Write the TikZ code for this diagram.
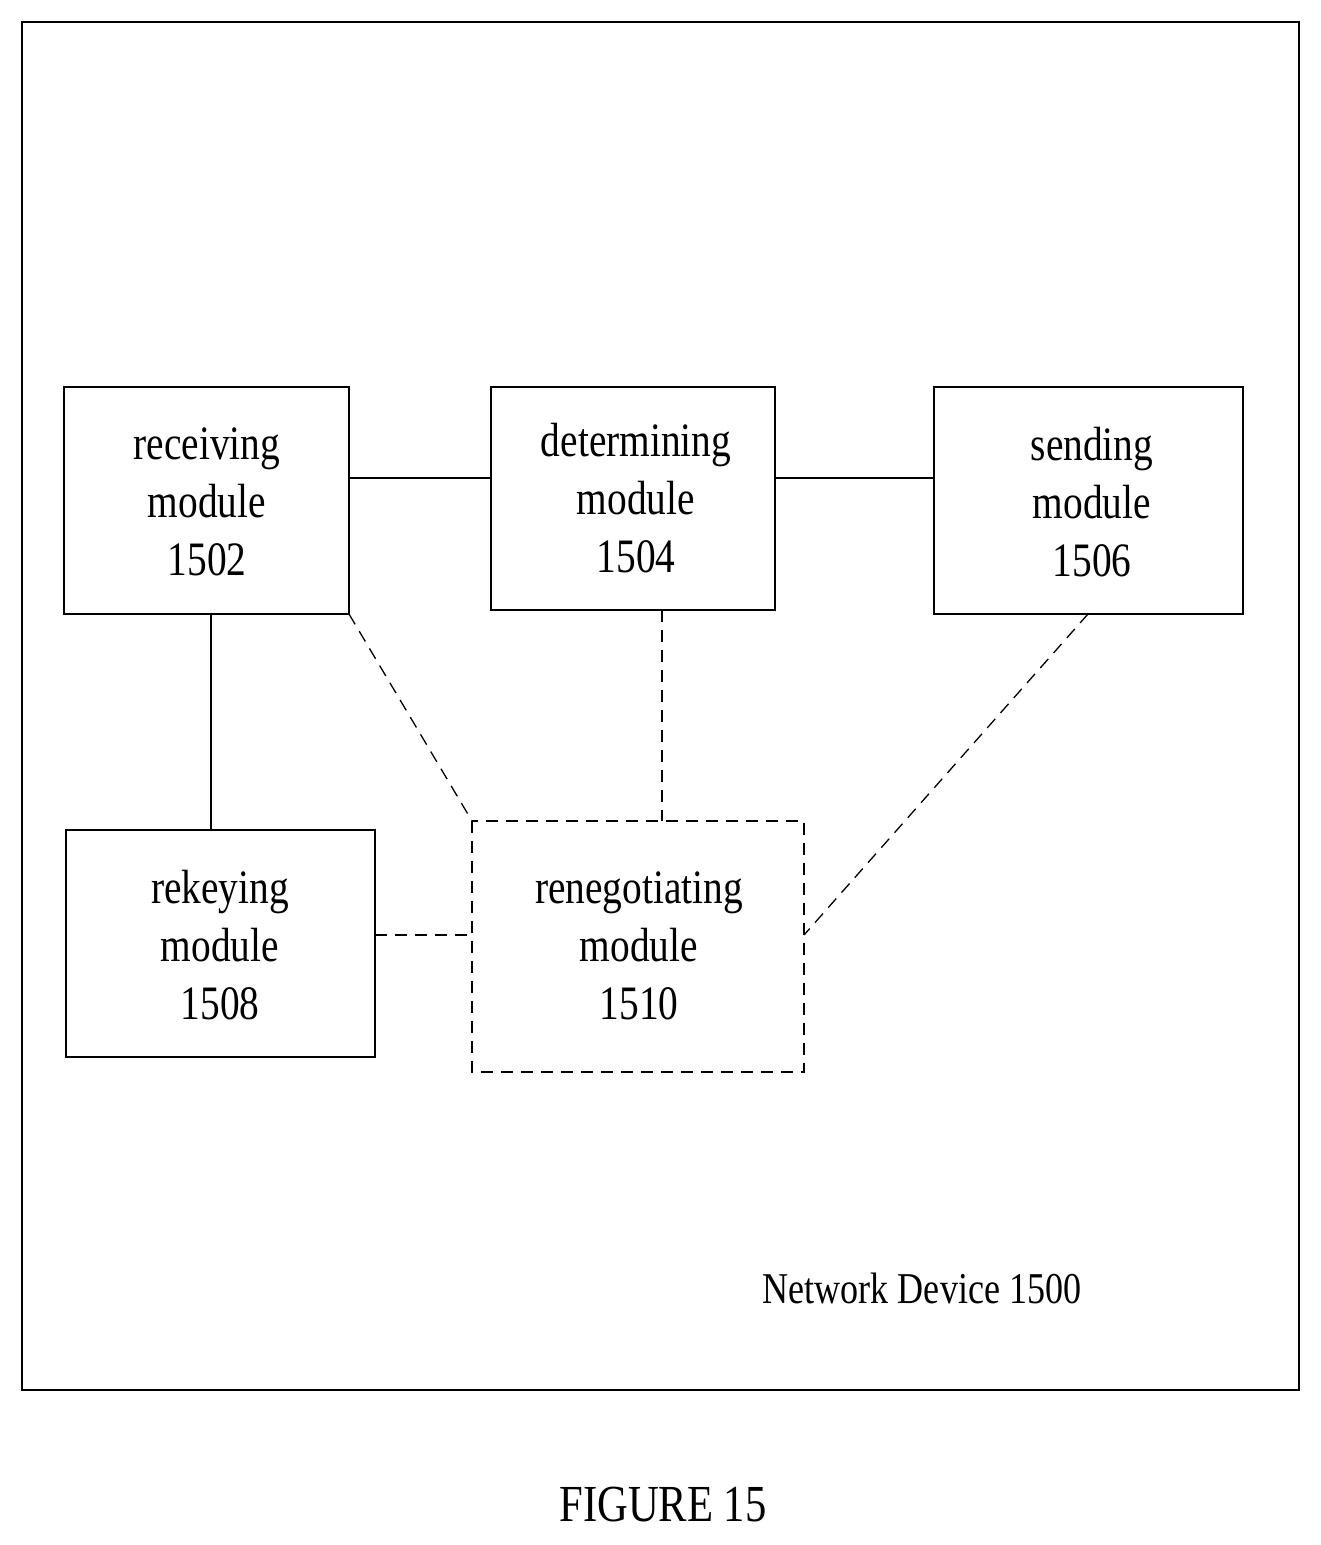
\documentclass[tikz,border=0pt]{standalone}
\usepackage{fontspec}
\setmainfont{Liberation Serif}[FakeStretch=0.82]
\begin{document}
\begin{tikzpicture}[x=1pt,y=-1pt,
  box/.style={draw,line width=1.3pt,inner sep=0pt},
  lbl/.style={align=center,font=\fontsize{48}{58}\selectfont},
  dsh/.style={line width=1.3pt,dash pattern=on 12pt off 8pt},
  sol/.style={line width=1.3pt}]
\useasboundingbox (0,0) rectangle (1321,1545);
\draw[line width=1.5pt] (22,22) rectangle (1299,1390);
\draw[box] (64,387) rectangle (349,614);
\draw[box] (491,387) rectangle (775,610);
\draw[box] (934,387) rectangle (1243,614);
\draw[box] (66,830) rectangle (375,1057);
\draw[box,dsh] (472,821) rectangle (804,1072);
\node[lbl] (rec) at (207,502) {receiving\\module\\1502};
\node[lbl] (det) at (636,498) {determining\\module\\1504};
\node[lbl] (snd) at (1092,502) {sending\\module\\1506};
\node[lbl] (rek) at (220,945) {rekeying\\module\\1508};
\node[lbl] (ren) at (639,946) {renegotiating\\module\\1510};
\coordinate (a1) at (349,478); \coordinate (a2) at (491,478);
\coordinate (b1) at (775,478); \coordinate (b2) at (934,478);
\coordinate (c1) at (211,614); \coordinate (c2) at (211,830);
\coordinate (d1) at (349,614); \coordinate (d2) at (472,821);
\coordinate (e1) at (662,610); \coordinate (e2) at (662,821);
\coordinate (f1) at (1088,614); \coordinate (f2) at (804,935);
\coordinate (g1) at (375,935); \coordinate (g2) at (472,935);
\draw[sol] (a1) -- (a2);
\draw[sol] (b1) -- (b2);
\draw[sol] (c1) -- (c2);
\draw[dsh] (d1) -- (d2);
\draw[dsh] (e1) -- (e2);
\draw[dsh] (f1) -- (f2);
\draw[dsh] (g1) -- (g2);
\node[font=\fontsize{44}{50}\selectfont] (nd) at (922,1288) {Network Device 1500};
\node[font=\fontsize{52}{60}\selectfont] (fig) at (663,1505) {FIGURE 15};
\end{tikzpicture}
\end{document}
